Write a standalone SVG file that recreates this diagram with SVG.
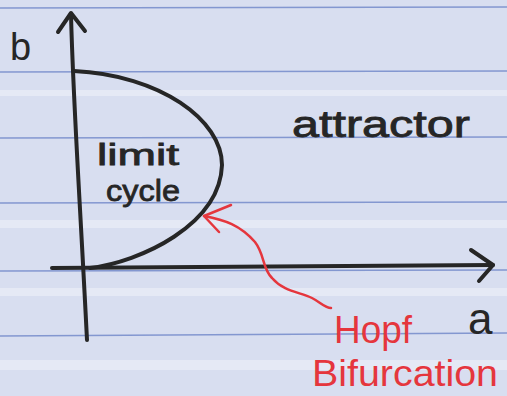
<svg xmlns="http://www.w3.org/2000/svg" width="507" height="396" viewBox="0 0 507 396">
<style>
.rule{stroke:#6f86c9;stroke-width:1.6;opacity:.8}
.ink{fill:none;stroke:#262626;stroke-width:4;stroke-linecap:round;stroke-linejoin:round}
.red{fill:none;stroke:#e5363d;stroke-width:2.5;stroke-linecap:round;stroke-linejoin:round}
.hand{font-family:"Liberation Sans","DejaVu Sans",sans-serif;fill:#262626}
.rt{font-family:"Liberation Sans","DejaVu Sans",sans-serif;fill:#e5363d}
</style>
<rect width="507" height="396" fill="#d8def0"/>
<g opacity=".35" fill="#ffffff">
<rect x="0" y="90" width="507" height="6"/>
<rect x="0" y="220" width="507" height="8"/>
<rect x="0" y="288" width="507" height="8"/>
<rect x="0" y="360" width="507" height="10"/>
</g>
<g id="rules">
<line class="rule" x1="0" y1="8" x2="507" y2="7"/>
<line class="rule" x1="0" y1="72" x2="507" y2="71"/>
<line class="rule" x1="0" y1="138" x2="507" y2="137"/>
<line class="rule" x1="0" y1="203" x2="507" y2="202"/>
<line class="rule" x1="0" y1="271" x2="507" y2="270"/>
<line class="rule" x1="0" y1="336" x2="507" y2="333"/>
</g>
<g id="connectors">
<path class="ink" d="M71,14 C73,100 80,200 87,340"/>
<path class="ink" d="M58,32 L71,13 L85,31"/>
<path class="ink" d="M52,268 L493,265"/>
<path class="ink" d="M471,250 L493,265 L479,281"/>
<path class="ink" d="M74,71 C160,75 222,120 222,165 C220,225 140,262 90,268" stroke-width="3"/>
<path class="red" d="M204,216 C225,220 240,225 255,242 C265,255 262,268 272,278 C284,292 300,292 312,298 C320,302 325,308 331,308"/>
<path class="red" d="M231,205 L204,216 L219,232"/>
</g>
<g id="label-b"><text class="hand" x="10" y="60" font-size="38">b</text></g>
<g id="label-a"><text class="hand" x="468" y="334" font-size="44">a</text></g>
<g id="node-limit-cycle">
<text class="hand" x="97" y="165" font-size="30" stroke="#262626" stroke-width=".8" textLength="82" lengthAdjust="spacingAndGlyphs">limit</text>
<text class="hand" x="106" y="201" font-size="30" stroke="#262626" stroke-width=".8" textLength="74" lengthAdjust="spacingAndGlyphs">cycle</text>
</g>
<g id="node-attractor"><text class="hand" x="292" y="137" font-size="36" stroke="#262626" stroke-width=".8" textLength="178" lengthAdjust="spacingAndGlyphs">attractor</text></g>
<g id="node-hopf">
<text class="rt" x="334" y="343" font-size="38" textLength="78" lengthAdjust="spacingAndGlyphs">Hopf</text>
<text class="rt" x="312" y="386" font-size="36" textLength="186" lengthAdjust="spacingAndGlyphs">Bifurcation</text>
</g>
</svg>
